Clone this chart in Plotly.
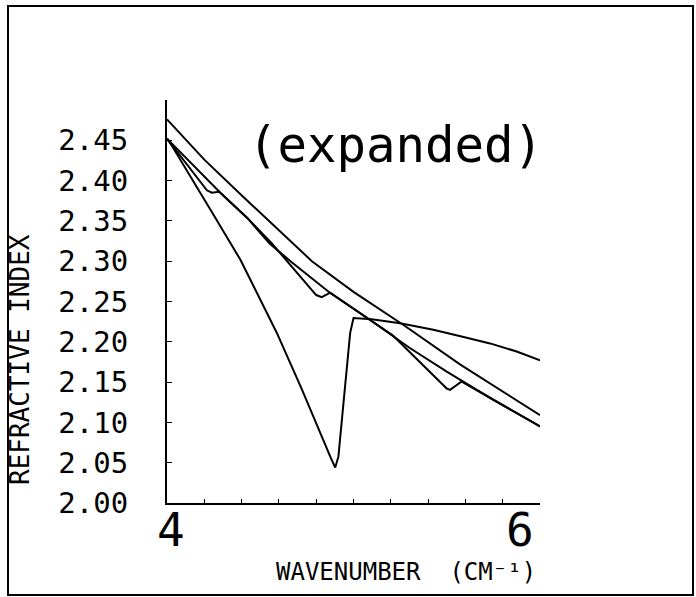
import plotly.graph_objects as go

# ---- data ----
top_x = [4.0, 4.2, 4.394, 4.6, 4.777, 5.0, 5.28, 5.571, 5.8, 6.0]
top_y = [2.476, 2.426, 2.383, 2.338, 2.300, 2.262, 2.219, 2.172, 2.138, 2.109]

mid_x = [4.0, 4.15, 4.286, 4.429, 4.55, 4.662, 4.875, 5.089, 5.304, 5.5, 5.75, 6.0]
mid_y = [2.452, 2.417, 2.385, 2.354, 2.322, 2.300, 2.2605, 2.227, 2.192, 2.163, 2.128, 2.095]

notch_x = [4.0, 4.214, 4.24, 4.28, 4.429, 4.56, 4.80, 4.83, 4.875, 5.089, 5.21,
           5.50, 5.518, 5.58, 5.75, 6.0]
notch_y = [2.452, 2.388, 2.385, 2.386, 2.354, 2.3226, 2.258, 2.2555, 2.261, 2.227, 2.208,
           2.142, 2.1404, 2.1507, 2.128, 2.095]

dip_x = [4.0, 4.027, 4.259, 4.393, 4.589, 4.7215, 4.88, 4.902, 4.919, 4.982, 5.0,
         5.098, 5.25, 5.428, 5.607, 5.732, 5.875, 6.0]
dip_y = [2.452, 2.443, 2.354, 2.302, 2.211, 2.142, 2.055, 2.044, 2.0575, 2.2108, 2.2294,
         2.228, 2.223, 2.215, 2.205, 2.198, 2.188, 2.177]

y_tickvals = [2.00, 2.05, 2.10, 2.15, 2.20, 2.25, 2.30, 2.35, 2.40, 2.45]
y_ticktext = ["2.00", "2.05", "2.10", "2.15", "2.20", "2.25", "2.30", "2.35", "2.40", "2.45"]
x_tickvals = [4.0, 4.2, 4.4, 4.6, 4.8, 5.0, 5.2, 5.4, 5.6, 5.8, 6.0]
x_labels = [(4, "4"), (6, "6")]

MONO = "DejaVu Sans Mono"
line = dict(color="black", width=2)

fig = go.Figure()
for xs, ys in [(top_x, top_y), (mid_x, mid_y), (notch_x, notch_y), (dip_x, dip_y)]:
    fig.add_trace(go.Scatter(x=xs, y=ys, mode="lines", line=line, showlegend=False,
                             hoverinfo="skip"))

W, H = 696, 597
L, R, T, B = 167, 156, 100, 94
pw, ph = W - L - R, H - T - B

def px(xp):
    return (xp - L) / pw

def py(yp):
    return (H - B - yp) / ph

fig.update_layout(
    width=W, height=H,
    margin=dict(l=L, r=R, t=T, b=B, pad=0),
    paper_bgcolor="white", plot_bgcolor="white",
    xaxis=dict(range=[4, 6], showgrid=False, zeroline=False, showline=True,
               linecolor="black", linewidth=2, ticks="inside", ticklen=4,
               tickcolor="black", tickwidth=1, tickvals=x_tickvals,
               showticklabels=False),
    yaxis=dict(range=[2.0, 2.5], showgrid=False, zeroline=False, showline=True,
               linecolor="black", linewidth=2, ticks="inside", ticklen=5,
               tickcolor="black", tickwidth=1, tickvals=y_tickvals,
               ticktext=y_ticktext, ticklabelstandoff=31,
               tickfont=dict(family=MONO, size=29, color="black")),
    font=dict(family=MONO, color="black"),
)

# outer frame
fig.add_shape(type="rect", xref="paper", yref="paper",
              x0=px(8), x1=px(693), y0=py(595), y1=py(6),
              line=dict(color="black", width=2), fillcolor="rgba(0,0,0,0)")

# x tick labels 4 and 6
for xv, txt in x_labels:
    fig.add_annotation(x=xv, y=py(530), xref="x", yref="paper", text=txt,
                       showarrow=False, xshift=(4 if xv == 4 else -20),
                       font=dict(family=MONO, size=46, color="black"),
                       xanchor="center", yanchor="middle")

# axis titles
fig.add_annotation(x=px(538), y=py(572), xref="paper", yref="paper",
                   text="WAVENUMBER  (CM\u207b\u00b9)", showarrow=False,
                   xanchor="right", yanchor="middle",
                   font=dict(family=MONO, size=24, color="black"))
fig.add_annotation(x=px(20), y=py(360), xref="paper", yref="paper",
                   text="REFRACTIVE INDEX", showarrow=False, textangle=-90,
                   xanchor="center", yanchor="middle",
                   font=dict(family=MONO, size=26, color="black"))

# in-plot label
fig.add_annotation(x=px(395), y=py(145), xref="paper", yref="paper",
                   text="(expanded)", showarrow=False,
                   xanchor="center", yanchor="middle",
                   font=dict(family=MONO, size=49, color="black"))

fig.write_html("out.html", config={"displayModeBar": False},
               post_script="document.body.style.margin='0px';document.body.style.overflow='hidden';")
